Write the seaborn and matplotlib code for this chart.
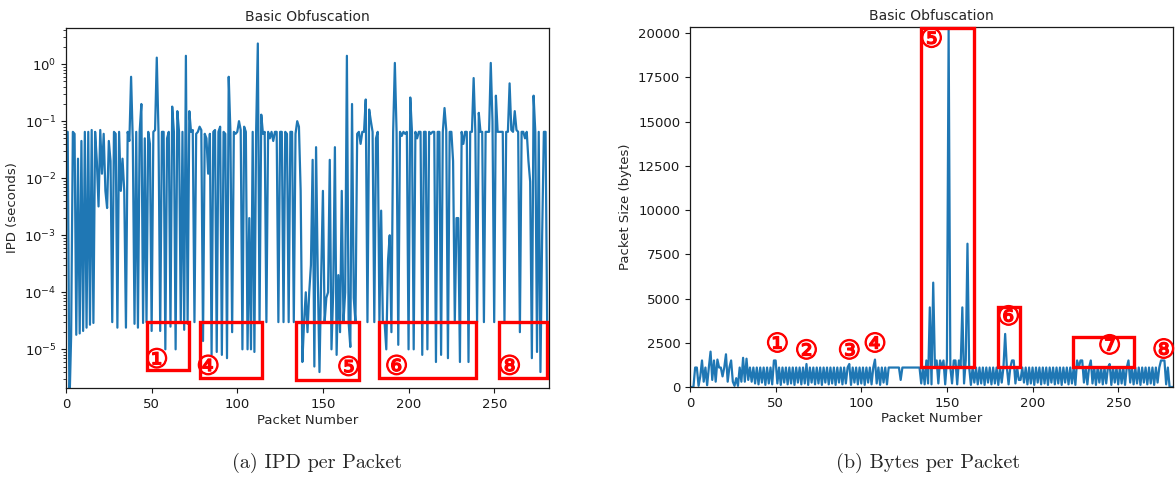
import numpy as np
import pandas as pd
import matplotlib
matplotlib.use("Agg")
import matplotlib.pyplot as plt
import matplotlib.patheffects as pe
from matplotlib.patches import Rectangle
import seaborn as sns

# ---------------- data ----------------
ipd_seconds = [
    0.065, 0.065, 1e-6, 1.7e-5, 0.065, 0.06, 1.8e-5, 0.022, 1.9e-5, 0.045,
    2.1e-5, 0.065, 2.4e-5, 0.065, 2.7e-5, 0.07, 2.9e-5, 0.065, 0.02, 0.0032,
    0.07, 0.012, 0.06, 0.006, 0.003, 0.045, 0.02, 3e-5, 0.065, 0.06,
    2.4e-5, 0.065, 0.006, 0.022, 0.006, 2.4e-5, 0.065, 0.045, 0.6, 0.045,
    2.8e-5, 0.065, 2.4e-5, 0.065, 0.2, 2.9e-5, 0.05, 3e-5, 0.065, 0.04,
    2.1e-5, 0.065, 0.07, 1.3, 0.065, 2.1e-5, 0.065, 0.065, 1e-5, 0.05,
    0.065, 2.5e-5, 0.18, 0.065, 1e-5, 0.15, 0.065, 3e-5, 0.065, 2.2e-5,
    1.4, 2.8e-5, 0.15, 0.065, 0.07, 3e-5, 0.06, 0.065, 0.08, 0.07,
    1.4e-5, 0.06, 0.05, 0.012, 0.06, 8e-6, 0.065, 0.07, 9e-6, 0.065,
    0.08, 8e-6, 0.065, 0.06, 7e-6, 0.6, 0.065, 2e-5, 0.065, 0.06,
    0.065, 0.1, 0.07, 1e-5, 0.08, 0.065, 1e-5, 0.002, 1e-5, 0.065,
    9e-6, 0.065, 2.3, 3e-5, 0.13, 0.06, 0.065, 3e-5, 0.065, 0.05,
    0.065, 0.045, 0.065, 0.065, 3e-5, 0.065, 0.065, 3e-5, 0.065, 0.06,
    3e-5, 0.065, 0.065, 3e-5, 0.06, 0.1, 0.08, 0.006, 6e-6, 3e-5,
    1e-4, 2e-5, 1e-4, 3e-4, 0.021, 5e-6, 0.035, 1.9e-4, 4e-6, 2e-4,
    0.006, 3e-5, 8e-5, 1e-4, 0.021, 1e-5, 1e-4, 0.035, 8e-6, 2e-4,
    2e-5, 0.006, 3e-5, 1e-4, 1.4, 3e-5, 1.1e-5, 0.2, 8e-5, 3e-5,
    0.06, 0.065, 0.04, 0.065, 0.065, 0.24, 3e-5, 0.16, 0.1, 0.065,
    3e-5, 0.05, 0.065, 3e-5, 0.0027, 3e-5, 3e-5, 1e-5, 3.6e-4, 0.001,
    2e-5, 0.065, 1.05, 0.065, 1.2e-5, 0.065, 0.055, 0.065, 0.06, 0.065,
    1e-5, 0.26, 0.065, 1e-5, 0.065, 0.05, 0.065, 0.065, 8e-6, 0.065,
    0.065, 1e-5, 0.065, 0.06, 0.065, 0.065, 6e-6, 0.065, 0.065, 8e-6,
    0.065, 0.17, 0.07, 7e-6, 0.065, 0.065, 0.02, 3e-5, 0.002, 0.002,
    6e-6, 0.065, 0.04, 0.065, 0.065, 6e-6, 0.065, 0.065, 0.57, 0.065,
    3e-5, 0.14, 0.065, 0.065, 3e-5, 0.065, 0.065, 0.065, 1.05, 0.1,
    3e-5, 0.28, 0.065, 0.065, 0.065, 0.065, 3e-5, 0.065, 0.065, 0.46,
    0.07, 0.065, 0.15, 0.07, 0.065, 2e-5, 0.065, 0.065, 0.05, 0.065,
    0.02, 0.0087, 7e-6, 0.28, 0.065, 9e-6, 0.065, 4e-6, 0.001, 0.065,
    0.065, 1.5e-5, 1e-5,
]

packet_bytes = [
    0, 0, 0, 1100, 1100, 66, 600, 1500, 300, 1100,
    100, 1100, 2000, 400, 1500, 300, 1550, 1100, 1100, 600,
    1100, 1850, 300, 1100, 1500, 300, 66, 500, 66, 1100,
    300, 1650, 300, 1600, 400, 1100, 300, 1100, 200, 1100,
    150, 1100, 250, 1100, 120, 1100, 200, 1100, 150, 1500,
    1500, 200, 1100, 120, 1100, 250, 1100, 150, 1100, 200,
    1100, 120, 1100, 250, 1100, 150, 1100, 200, 1300, 120,
    1100, 250, 1100, 150, 1100, 200, 1100, 120, 1100, 250,
    1100, 150, 1100, 200, 1100, 120, 1100, 250, 1100, 150,
    1100, 200, 1100, 1300, 120, 1100, 250, 1100, 150, 1100,
    200, 1100, 120, 1100, 250, 1100, 150, 1100, 1550, 200,
    1100, 120, 1100, 250, 1100, 150, 1100, 1100, 1100, 1100,
    1100, 1100, 1100, 400, 1100, 1100, 1100, 1100, 1100, 1100,
    1100, 1100, 1100, 1100, 1100, 200, 1100, 150, 1500, 200,
    4500, 150, 5900, 1100, 1500, 200, 1500, 1100, 1500, 150,
    1500, 20200, 1100, 200, 1500, 1500, 150, 1500, 1100, 4500,
    200, 1500, 8100, 1100, 120, 1100, 250, 1100, 150, 1100,
    200, 1100, 120, 1100, 250, 1100, 150, 1100, 200, 1100,
    120, 1100, 250, 1100, 3000, 1100, 150, 1100, 1500, 1500,
    200, 1100, 400, 400, 1100, 250, 1100, 150, 1100, 200,
    1100, 120, 1100, 250, 1100, 150, 1100, 200, 1100, 120,
    1100, 250, 1100, 150, 1100, 200, 1100, 120, 1100, 250,
    1100, 150, 1100, 200, 1100, 120, 1500, 1100, 1500, 1500,
    250, 1100, 150, 1100, 1500, 200, 1100, 120, 1100, 250,
    1100, 150, 1100, 200, 1100, 1300, 120, 1100, 250, 1100,
    150, 1100, 200, 1100, 120, 1100, 1500, 250, 1100, 150,
    1100, 200, 1100, 120, 1100, 250, 1100, 150, 1100, 200,
    1100, 120, 1100, 250, 1100, 1500, 1500, 1500, 150, 1100,
    0, 0, 0,
]

packet_number = list(range(len(ipd_seconds)))
packet_number_b = list(range(len(packet_bytes)))

# annotation boxes: (x0, x1, y0, y1)
ipd_boxes = [(47.4, 72.0, 4.3e-6, 3e-5), (78.4, 114.6, 3.2e-6, 3e-5),
             (134.0, 171.3, 2.9e-6, 3e-5), (183.0, 239.2, 3.2e-6, 3e-5),
             (253.0, 280.7, 3.2e-6, 3e-5)]
ipd_labels = [("①", 53, 6.3e-6), ("④", 83, 4.8e-6), ("⑤", 165, 4.6e-6),
              ("⑥", 193, 4.8e-6), ("⑧", 259, 4.8e-6)]
byte_boxes = [(135.0, 166.0, 1130, 20300), (180.0, 192.4, 1130, 4520),
              (223.4, 259.0, 1130, 2825)]
byte_labels = [("①", 51, 2370), ("②", 68, 1980), ("③", 93, 1980),
               ("④", 108, 2370), ("⑤", 141, 19600), ("⑥", 186, 3900),
               ("⑦", 245, 2260), ("⑧", 276.6, 2030)]

df_a = pd.DataFrame({"Packet Number": packet_number, "IPD": ipd_seconds})
df_b = pd.DataFrame({"Packet Number": packet_number_b, "Bytes": packet_bytes})

# ---------------- plot ----------------
sns.set_style("ticks")
plt.rcParams["font.family"] = ["DejaVu Sans"]
plt.rcParams["axes.edgecolor"] = "0.1"
plt.rcParams["xtick.color"] = "0.1"
plt.rcParams["ytick.color"] = "0.1"

fig = plt.figure(figsize=(11.75, 4.87), dpi=100)
ax1 = fig.add_axes([66 / 1175, 1 - 388 / 487, 483 / 1175, 360 / 487])
ax2 = fig.add_axes([690 / 1175, 1 - 387 / 487, 483 / 1175, 360 / 487])

blue = "#1f77b4"
fs = 9.5

ax1.set_yscale("log")
sns.lineplot(data=df_a, x="Packet Number", y="IPD", ax=ax1, color=blue,
             linewidth=1.6, estimator=None)
ax1.set_xlim(0, 282)
ax1.set_ylim(2.1e-6, 4.3)
ax1.set_ylabel("IPD (seconds)", fontsize=fs)
ax1.set_xlabel("Packet Number", fontsize=fs, labelpad=2)
ax1.set_title("Basic Obfuscation", fontsize=10, pad=5)

sns.lineplot(data=df_b, x="Packet Number", y="Bytes", ax=ax2, color=blue,
             linewidth=1.6, estimator=None)
ax2.set_xlim(0, 282)
ax2.set_ylim(0, 20350)
ax2.set_yticks([0, 2500, 5000, 7500, 10000, 12500, 15000, 17500, 20000])
ax2.set_ylabel("Packet Size (bytes)", fontsize=fs)
ax2.set_xlabel("Packet Number", fontsize=fs, labelpad=2)
ax2.set_title("Basic Obfuscation", fontsize=10, pad=5)

for ax in (ax1, ax2):
    ax.set_xticks([0, 50, 100, 150, 200, 250])
    ax.tick_params(labelsize=fs, length=3.5, width=0.8)
    ax.tick_params(which="minor", length=2, width=0.6)
    for s in ax.spines.values():
        s.set_linewidth(0.9)

num_fx = [pe.withStroke(linewidth=0.9, foreground="red")]
for (x0, x1, y0, y1) in ipd_boxes:
    ax1.add_patch(Rectangle((x0, y0), x1 - x0, y1 - y0, fill=False,
                            edgecolor="red", linewidth=2.4, zorder=5))
for (t, x, y) in ipd_labels:
    ax1.text(x, y, t, color="red", fontsize=19, ha="center", va="center",
             zorder=6, path_effects=num_fx)
for (x0, x1, y0, y1) in byte_boxes:
    ax2.add_patch(Rectangle((x0, y0), x1 - x0, y1 - y0, fill=False,
                            edgecolor="red", linewidth=2.4, zorder=5,
                            clip_on=False))
for (t, x, y) in byte_labels:
    ax2.text(x, y, t, color="red", fontsize=19, ha="center", va="center",
             zorder=6, path_effects=num_fx)

fig.text(317 / 1175, 1 - 463 / 487, "(a) IPD per Packet", family="cmr10",
         fontsize=14.5, ha="center", va="center")
fig.text(928 / 1175, 1 - 463 / 487, "(b) Bytes per Packet", family="cmr10",
         fontsize=14.5, ha="center", va="center")

fig.savefig("out.png", dpi=100)
